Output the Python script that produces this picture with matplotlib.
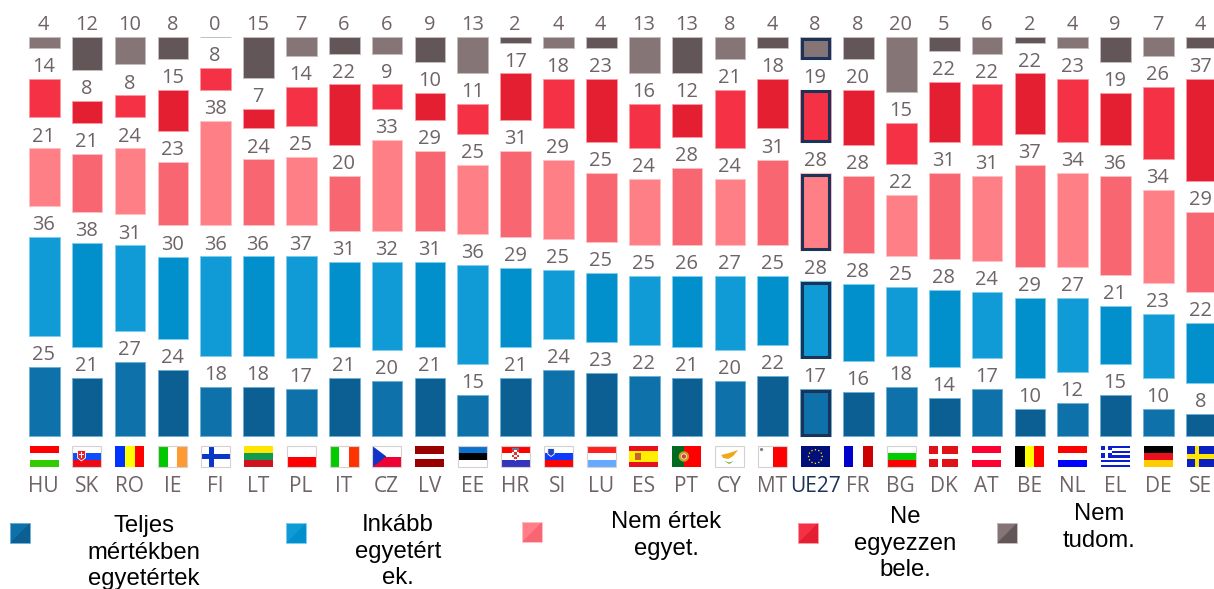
import matplotlib
matplotlib.use("Agg")
import matplotlib.pyplot as plt
from matplotlib.patches import Rectangle, Polygon, Circle
import numpy as np

W, H = 1214, 589
countries = ["HU","SK","RO","IE","FI","LT","PL","IT","CZ","LV","EE","HR","SI","LU","ES","PT","CY","MT","UE27","FR","BG","DK","AT","BE","NL","EL","DE","SE"]
teljes  = [25,21,27,24,18,18,17,21,20,21,15,21,24,23,22,21,20,22,17,16,18,14,17,10,12,15,10,8]
inkabb  = [36,38,31,30,36,36,37,31,32,31,36,29,25,25,25,26,27,25,28,28,25,28,24,29,27,21,23,22]
nem_ert = [21,21,24,23,38,24,25,20,33,29,25,31,29,25,24,28,24,31,28,28,22,31,31,37,34,36,34,29]
ne_egy  = [14,8,8,15,8,7,14,22,9,10,11,17,18,23,16,12,21,18,19,20,15,22,22,22,23,19,26,37]
nem_tud = [4,12,10,8,0,15,7,6,6,9,13,2,4,4,13,13,8,4,8,8,20,5,6,2,4,9,7,4]
series = [teljes, inkabb, nem_ert, ne_egy, nem_tud]
legend_labels = ["Teljes\nmértékben\negyetértek", "Inkább\negyetért\nek.", "Nem értek\negyet.", "Ne\negyezzen\nbele.", "Nem\ntudom."]

light = ["#0f71a9", "#109bd6", "#ff7f87", "#f53145", "#857577"]
dark  = ["#0c5f92", "#0190cc", "#f76671", "#e41f31", "#625659"]
edges = ["#6fb0d4", "#80cdee", "#ffc0c4", "#fb98a2", "#c4bbbc"]
NAVY = "#1b3358"
TXT = "#6e6366"

STEP = 42.85; X0 = 44.3; BW = 30.7
SCALE = 2.75; BASE = 436; GAP = 31 / SCALE
FONT = "Open Sans"

fig = plt.figure(figsize=(W/100, H/100), dpi=100)
ax = fig.add_axes([0, 0, 1, 1])
ax.set_xlim(-X0/STEP, (W-X0)/STEP)
ax.set_ylim(-(H-BASE)/SCALE, BASE/SCALE)
ax.axis("off")
px = fig.add_axes([0, 0, 1, 1], zorder=3)
px.set_xlim(0, W); px.set_ylim(H, 0); px.axis("off"); px.patch.set_alpha(0)

x = np.arange(len(countries))
bw = BW / STEP
bottom = np.zeros(len(countries))
ue = countries.index("UE27")
for k, vals in enumerate(series):
    vals = np.array(vals, float)
    cols = [light[k] if i % 2 == 0 else dark[k] for i in x]
    ax.bar(x, vals, bw, bottom=bottom, color=cols, edgecolor=edges[k], linewidth=0.7)
    ins_x = 1.5/STEP; ins_y = 1.5/SCALE
    ax.bar(x[ue], vals[ue]-2*ins_y, bw-2*ins_x, bottom=bottom[ue]+ins_y, facecolor="none",
           edgecolor=NAVY, linewidth=2.2, zorder=3)
    for i, v in enumerate(vals):
        ax.annotate(f"{int(v)}", (i, bottom[i]+v), xytext=(-0.4, 5.0), textcoords="offset points",
                    ha="center", va="baseline", fontsize=14.4, color=TXT, family=FONT)
    bottom = bottom + vals + GAP

for i, c in enumerate(countries):
    ax.annotate(c, (i, 0), xytext=(-0.4, -40), textcoords="offset points", ha="center", va="baseline",
                fontsize=15, color=NAVY if c == "UE27" else TXT, family=FONT)

# flags
def rect(a, b, c, d, col, z=4):
    px.add_patch(Rectangle((a, b), c-a, d-b, facecolor=col, edgecolor="none", zorder=z))
def hstripes(l, t, w, h, cols, ratio=None):
    ratio = ratio or [1]*len(cols)
    s = sum(ratio); y = t
    for c, r in zip(cols, ratio):
        rect(l, y, l+w, y+h*r/s, c); y += h*r/s
def vstripes(l, t, w, h, cols, ratio=None):
    ratio = ratio or [1]*len(cols)
    s = sum(ratio); xx = l
    for c, r in zip(cols, ratio):
        rect(xx, t, xx+w*r/s, t+h, c); xx += w*r/s
def cross(l, t, w, h, bg, fg, t0=0.09):
    rect(l, t, l+w, t+h, bg)
    cx = l + w*0.36
    rect(cx-w*t0, t, cx+w*t0, t+h, fg)
    rect(l, t+h/2-w*t0, l+w, t+h/2+w*t0, fg)
def shield(l, t, sw, sh, col, edge="#ffffff"):
    px.add_patch(Polygon([(l,t),(l+sw,t),(l+sw,t+sh*0.7),(l+sw/2,t+sh),(l,t+sh*0.7)],fc=col,ec=edge,lw=0.6,zorder=5))

WH = "#ffffff"
for i, c in enumerate(countries):
    l = X0 + STEP*i - 14.7; t = 446; w = 29; h = 21
    if c == "HU": hstripes(l,t,w,h,["#ff0000",WH,"#33cc00"])
    elif c == "SK":
        hstripes(l,t,w,h,[WH,"#0b4eff","#ee0a14"])
        shield(l+5,t+4.5,8,10.5,"#e8202a")
        rect(l+8.4,t+6,l+9.6,t+12,WH,6); rect(l+6.8,t+8,l+11.2,t+9,WH,6)
    elif c == "RO": vstripes(l,t,w,h,["#0033ff","#ffff00","#ff0000"])
    elif c == "IE": vstripes(l,t,w,h,["#00c800",WH,"#ff9a33"])
    elif c == "FI": cross(l,t,w,h,WH,"#0a37c8")
    elif c == "LT": hstripes(l,t,w,h,["#ffe600","#0f9a50","#d0141e"])
    elif c == "PL": hstripes(l,t,w,h,[WH,"#ff0000"])
    elif c == "IT": vstripes(l,t,w,h,["#00cc00",WH,"#ff3300"])
    elif c == "CZ":
        hstripes(l,t,w,h,[WH,"#ee0033"])
        px.add_patch(Polygon([(l,t),(l+14,t+h/2),(l,t+h)],fc="#1233c8",ec="none",zorder=5))
    elif c == "LV": hstripes(l,t,w,h,["#990000",WH,"#990000"],[2,1,2])
    elif c == "EE": hstripes(l,t,w,h,["#0a72ce","#000000",WH])
    elif c == "HR":
        hstripes(l,t,w,h,["#ff0000",WH,"#3333bb"])
        rect(l+11,t+2,l+18,t+4,"#667799",5)
        shield(l+11,t+4,7,11,"#ffffff","none")
        for r_ in range(4):
            for s_ in range(3):
                if (r_+s_) % 2 == 0:
                    rect(l+11+s_*2.33,t+4+r_*2.3,l+11+(s_+1)*2.33,t+4+(r_+1)*2.3,"#e63030",6)
    elif c == "SI":
        hstripes(l,t,w,h,[WH,"#0a3cff","#ff0000"])
        shield(l+4,t+2.5,6.5,8,"#2040c0")
    elif c == "LU": hstripes(l,t,w,h,["#ff2020",WH,"#66aaff"])
    elif c == "ES":
        hstripes(l,t,w,h,["#e8101c","#ffee00","#e8101c"],[1,2,1])
        rect(l+6,t+7,l+12,t+14,"#c86030",5)
    elif c == "PT":
        vstripes(l,t,w,h,["#006a20","#ff0000"],[2,3])
        px.add_patch(Circle((l+11.5,t+h/2),5.2,fc="#c8a020",ec="none",zorder=5))
        px.add_patch(Circle((l+11.5,t+h/2),2.6,fc="#d04030",ec=WH,lw=0.5,zorder=6))
    elif c == "CY":
        rect(l,t,l+w,t+h,WH)
        px.add_patch(Polygon([(l+6,t+9),(l+14,t+7),(l+23,t+4),(l+18,t+10),(l+13,t+13),(l+8,t+12)],fc="#f0a818",ec="none",zorder=5))
        px.add_patch(Polygon([(l+9,t+15),(l+14,t+18),(l+19,t+15),(l+14,t+16.5)],fc="#70b040",ec="none",zorder=5))
    elif c == "MT":
        vstripes(l,t,w,h,[WH,"#ff0000"])
        px.add_patch(Circle((l+3.5,t+3.5),1.6,fc="#808080",ec="none",zorder=5))
    elif c == "UE27":
        rect(l,t,l+w,t+h,"#000f7a")
        for a in np.arange(0, 360, 30):
            px.add_patch(Circle((l+w/2+6.8*np.cos(np.radians(a)), t+h/2+6.8*np.sin(np.radians(a))),0.75,fc="#ffdd00",ec="none",zorder=5))
    elif c == "FR": vstripes(l,t,w,h,["#0000cc",WH,"#cc0000"])
    elif c == "BG": hstripes(l,t,w,h,[WH,"#00cc00","#ff0000"])
    elif c == "DK": cross(l,t,w,h,"#e01218",WH,0.075)
    elif c == "AT": hstripes(l,t,w,h,["#ff0033",WH,"#ff0033"])
    elif c == "BE": vstripes(l,t,w,h,["#000000","#ffff00","#ff0000"])
    elif c == "NL": hstripes(l,t,w,h,["#ff0000",WH,"#0000ff"])
    elif c == "EL":
        cols = ["#0a20d0",WH]*4 + ["#0a20d0"]
        hstripes(l,t,w,h,cols)
        rect(l,t,l+11.5,t+11.7,"#0a20d0",5)
        rect(l+4.2,t,l+7.2,t+11.7,WH,6); rect(l,t+4.3,l+11.5,t+7.3,WH,6)
    elif c == "DE": hstripes(l,t,w,h,["#000000","#e8101c","#ffcc00"])
    elif c == "SE": cross(l,t,w,h,"#0a20c0","#ffe600",0.085)
    if c in ("SK","FI","PL","CY","MT","BG","CZ","IE","IT","EE","SI","HR","LU"):
        px.add_patch(Rectangle((l,t),w,h,fc="none",ec="#d8d0d0",lw=0.8,zorder=7))

# legend
swatch_left = [10, 286, 522, 798, 997]
swatch_top = [523, 523, 522, 523, 523]
text_x = [144, 398, 666, 905, 1099]
text_y = [525, 524, 521, 516, 513]
for k in range(5):
    a, b = swatch_left[k], swatch_top[k]; s = 20
    px.add_patch(Rectangle((a,b),s,s,fc=light[k],ec="none",zorder=4))
    px.add_patch(Polygon([(a+s,b),(a+s,b+s),(a,b+s)],fc=dark[k],ec="none",zorder=4))
    px.add_patch(Rectangle((a,b),s,s,fc="none",ec=edges[k],lw=0.7,zorder=5))
    px.text(text_x[k], text_y[k]-10, legend_labels[k], ha="center", va="top", fontsize=17.2,
            family="Liberation Sans", color="black", linespacing=1.27, multialignment="center", clip_on=True)

fig.savefig("out.png", dpi=100)
